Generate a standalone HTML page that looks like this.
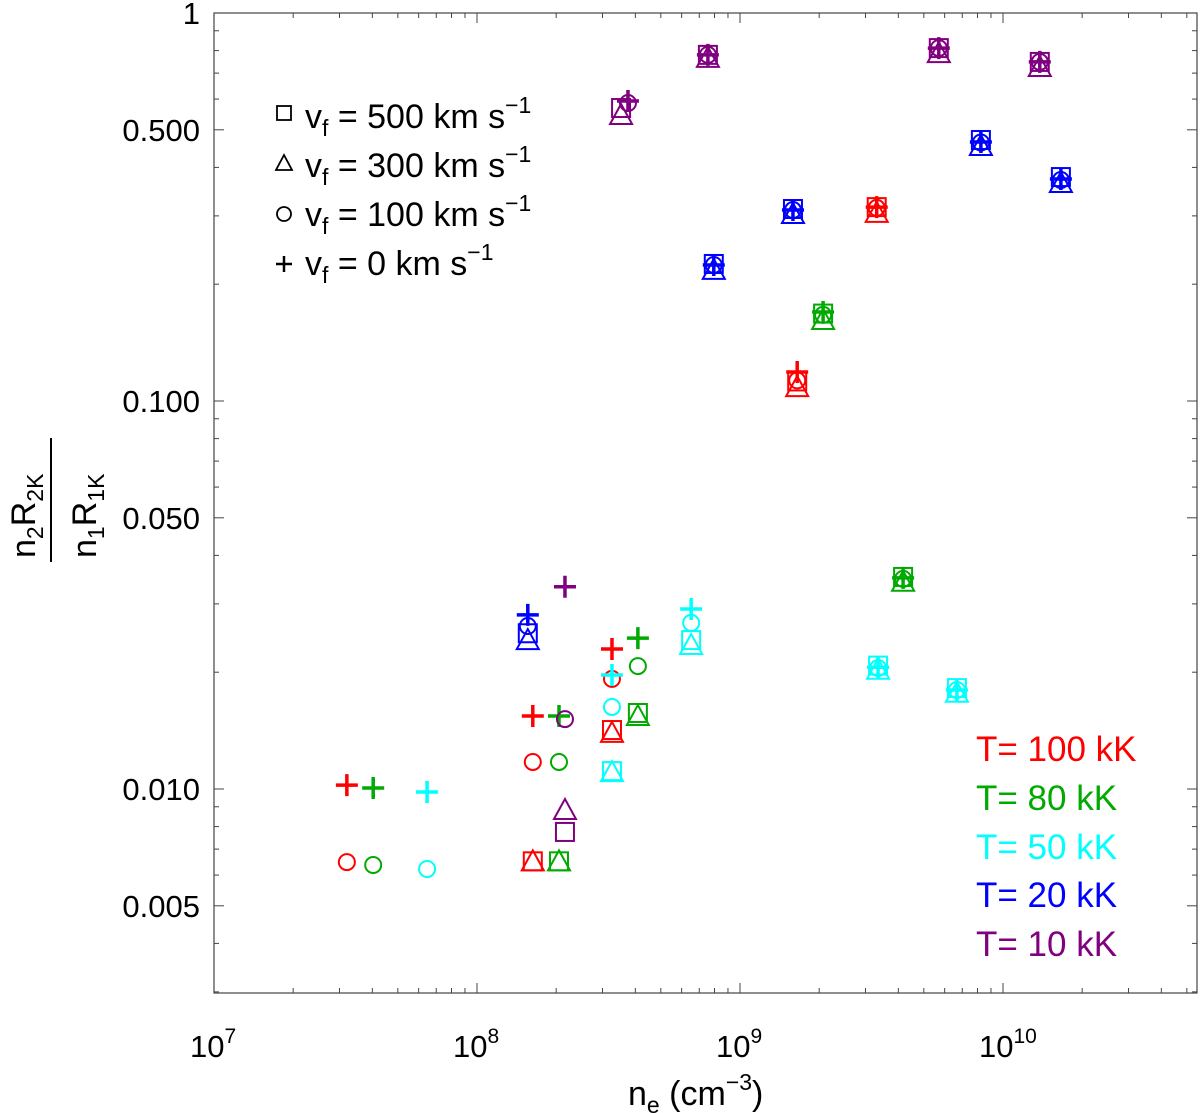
<!DOCTYPE html>
<html><head><meta charset="utf-8"><style>
html,body{margin:0;padding:0;background:#fff;}
svg{display:block;font-family:"Liberation Sans",Arial,sans-serif;}
</style></head><body>
<svg id="chart" width="1200" height="1113" viewBox="0 0 1200 1113">
<g id="frame"></g>
<g id="marks"></g>
<g id="legend">
  <rect x="277" y="106" width="14" height="14" fill="none" stroke="#000" stroke-width="1.8"/>
  <text x="305" y="128" font-size="34">v<tspan font-size="23" dy="8">f</tspan><tspan dy="-8"> = 500 km s</tspan><tspan font-size="23" dy="-15">−1</tspan></text>
  <polygon points="284,155 276,170 292,170" fill="none" stroke="#000" stroke-width="1.8"/>
  <text x="305" y="177" font-size="34">v<tspan font-size="23" dy="8">f</tspan><tspan dy="-8"> = 300 km s</tspan><tspan font-size="23" dy="-15">−1</tspan></text>
  <circle cx="284" cy="214" r="7" fill="none" stroke="#000" stroke-width="1.8"/>
  <text x="305" y="226" font-size="34">v<tspan font-size="23" dy="8">f</tspan><tspan dy="-8"> = 100 km s</tspan><tspan font-size="23" dy="-15">−1</tspan></text>
  <path d="M276,264 H292 M284,256 V272" stroke="#000" stroke-width="2.5"/>
  <text x="305" y="275" font-size="34">v<tspan font-size="23" dy="8">f</tspan><tspan dy="-8"> = 0 km s</tspan><tspan font-size="23" dy="-15">−1</tspan></text>
</g>
<g font-size="35">
  <text x="976" y="761" fill="#ff0000">T= 100 kK</text>
  <text x="976" y="810" fill="#00aa00">T= 80 kK</text>
  <text x="976" y="859" fill="#00ffff">T= 50 kK</text>
  <text x="976" y="907" fill="#0000ff">T= 20 kK</text>
  <text x="976" y="956" fill="#800080">T= 10 kK</text>
</g>
<g>
  <text x="628" y="1105" font-size="34">n<tspan font-size="23" dy="8">e</tspan><tspan dy="-8">  (cm</tspan><tspan font-size="23" dy="-15">−3</tspan><tspan dy="15">)</tspan></text>
</g>
<g transform="translate(0,500) rotate(-90)">
  <text x="-58" y="35" font-size="34">n<tspan font-size="23" dy="8">2</tspan><tspan dy="-8">R</tspan><tspan font-size="23" dy="8">2K</tspan></text>
  <line x1="-62" y1="51" x2="62" y2="51" stroke="#000" stroke-width="2"/>
  <text x="-58" y="96" font-size="34">n<tspan font-size="23" dy="8">1</tspan><tspan dy="-8">R</tspan><tspan font-size="23" dy="8">1K</tspan></text>
</g>
</svg>
<script>
// ---- data ----
const temps = ["100 kK","80 kK","50 kK","20 kK","10 kK"];
const colors = ["#ff0000","#00aa00","#00ffff","#0000ff","#800080"];
const neRed = [3.2e7,1.63e8,3.26e8,1.65e9,3.31e9];
const neGreen = [4.03e7,2.05e8,4.09e8,2.07e9,4.17e9];
const neCyan = [6.46e7,3.26e8,6.52e8,3.35e9,6.68e9];
const neBlue = [1.56e8,7.95e8,1.59e9,8.24e9,1.66e10];
const nePurple = [2.16e8,3.75e8,7.55e8,5.7e9,1.38e10];
const nePurpleSq = [2.16e8,3.53e8,7.55e8,5.7e9,1.38e10];
const plusRed = [0.01023,0.01542,0.02296,0.1188,0.316];
const circRed = [0.00648,0.01174,0.01922,0.1130,0.3145];
const sqRed = [null,0.00651,0.01419,0.1123,0.316];
const triRed = [null,0.00651,0.01395,0.1086,0.3055];
const plusGreen = [0.01006,0.01542,0.02449,0.1696,0.0350];
const circGreen = [0.00637,0.01174,0.02074,0.1667,0.0348];
const sqGreen = [null,0.00651,0.01570,0.1680,0.0352];
const triGreen = [null,0.00651,0.01542,0.1617,0.0342];
const plusCyan = [0.00982,0.01967,0.0291,0.0206,0.0180];
const circCyan = [0.00622,0.01627,0.0268,0.0205,0.0180];
const sqCyan = [null,0.01112,0.0242,0.0208,0.0182];
const triCyan = [null,0.01105,0.0235,0.0203,0.0177];
const plusBlue = [0.0281,0.2242,0.3106,0.4650,0.3733];
const circBlue = [0.0263,0.2242,0.3106,0.4637,0.3711];
const sqBlue = [0.0252,0.2255,0.3125,0.4706,0.3777];
const triBlue = [0.0242,0.2177,0.3034,0.4542,0.3646];
const plusPurple = [0.0332,0.593,0.780,0.812,0.748];
const circPurple = [0.01514,0.586,0.780,0.812,0.748];
const sqPurple = [0.00775,0.569,0.780,0.812,0.748];
const triPurple = [0.00883,0.546,0.766,0.788,0.726];
const yTickVals = [1,0.5,0.1,0.05,0.01,0.005];
const yTickLabels = ["1","0.500","0.100","0.050","0.010","0.005"];
const xTickExp = [7,8,9,10];

// ---- axes ----
const L=214,R=1197,T=13,B=993, XDEC=263, YDEC=388;
const sx = v => L + (Math.log10(v)-7)*XDEC;
const sy = v => T - Math.log10(v)*YDEC;
const NS="http://www.w3.org/2000/svg";
function mk(tag,attrs,parent){const e=document.createElementNS(NS,tag);for(const k in attrs)e.setAttribute(k,attrs[k]);parent.appendChild(e);return e;}
const frame=document.getElementById('frame');
const box=mk('rect',{x:L,y:T,width:R-L,height:B-T,fill:'none',stroke:'#444','stroke-width':1.2},frame);


for(let e=7;e<=10;e++){for(let m=1;m<10;m++){const v=m*Math.pow(10,e);const x=sx(v);if(x>R)break;const len=m===1?10:5;
 mk('line',{x1:x,y1:B,x2:x,y2:B-len,stroke:'#444','stroke-width':1},frame);
 mk('line',{x1:x,y1:T,x2:x,y2:T+len,stroke:'#444','stroke-width':1},frame);}}
xTickExp.forEach(e=>{const t=mk('text',{x:sx(Math.pow(10,e))-24,y:1057,'font-size':31},frame);
 
 
 t.innerHTML='10<tspan font-size="21" dy="-14">'+e+'</tspan>';});
for(let e=-3;e<=0;e++){for(let m=1;m<10;m++){const v=m*Math.pow(10,e);const y=sy(v);if(y<T-0.5||y>B)continue;const len=(m===1||m===5)?10:5;
 mk('line',{x1:L,y1:y,x2:L+len,y2:y,stroke:'#444','stroke-width':1},frame);
 mk('line',{x1:R,y1:y,x2:R-len,y2:y,stroke:'#444','stroke-width':1},frame);}}
yTickVals.forEach((v,i)=>{const t=mk('text',{x:200,y:sy(v)+11,'font-size':31,'text-anchor':'end'},frame);
 
 
 t.textContent=yTickLabels[i];});
// ---- marks ----
const marks=document.getElementById('marks');
const series=[
 [neRed,neRed,plusRed,circRed,sqRed,triRed],
 [neGreen,neGreen,plusGreen,circGreen,sqGreen,triGreen],
 [neCyan,neCyan,plusCyan,circCyan,sqCyan,triCyan],
 [neBlue,neBlue,plusBlue,circBlue,sqBlue,triBlue],
 [nePurple,nePurpleSq,plusPurple,circPurple,sqPurple,triPurple]];
series.forEach((s,si)=>{const c=colors[si];const [ne,neSq,pl,ci,sq,tr]=s;
 for(let i=0;i<ne.length;i++){
  if(sq[i]!=null){const x=sx(neSq[i]),y=sy(sq[i]);const r=mk('rect',{x:x-9,y:y-9,width:18,height:18,fill:'none',stroke:c,'stroke-width':2},marks);
   
   }
  if(tr[i]!=null){const x=sx(neSq[i]),y=sy(tr[i]);const p=mk('polygon',{points:`${x},${y-11} ${x-11},${y+9} ${x+11},${y+9}`,fill:'none',stroke:c,'stroke-width':2},marks);
   
   }
  if(ci[i]!=null){const x=sx(ne[i]),y=sy(ci[i]);const k=mk('circle',{cx:x,cy:y,r:8,fill:'none',stroke:c,'stroke-width':2},marks);
   
   }
  if(pl[i]!=null){const x=sx(ne[i]),y=sy(pl[i]);const p=mk('path',{d:`M${x-11},${y} H${x+11} M${x},${y-11} V${y+11}`,stroke:c,'stroke-width':3.5},marks);
   
   }
 }});
</script>
</body></html>
